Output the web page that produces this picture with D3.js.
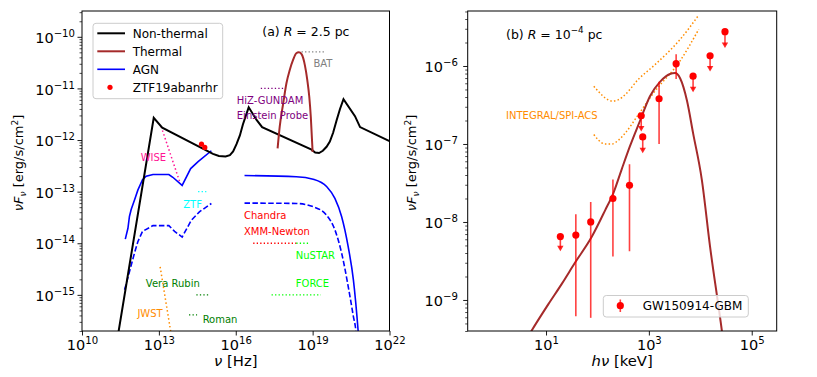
<!DOCTYPE html>
<html>
<head>
<meta charset="utf-8">
<script src="https://cdn.jsdelivr.net/npm/d3@7"></script>
<style>
  body { margin: 0; background: #fff; }
  svg { font-family: "DejaVu Sans", sans-serif; }
</style>
</head>
<body>
<div id="chart"></div>
<script>
// ---------- panel (a): R = 2.5 pc, nu [Hz] vs nuF_nu ----------
const nonThermalNu = [2.0e11, 6.3e12, 1.35e13, 1.29e15, 2.2e15, 4.0e15, 5.9e15, 7.9e15, 1.07e16, 1.45e16,
  1.9e16, 2.5e16, 3.2e16, 6.5e16, 1.07e17, 9.1e18, 1.26e19, 1.78e19, 2.5e19, 3.5e19,
  4.7e19, 6.3e19, 8.7e19, 1.17e20, 1.6e20, 4.5e20, 7.1e20, 1.0e22];
const nonThermalFlux = [8.1e-17, 2.7e-12, 1.74e-12, 5.4e-13, 4.9e-13, 4.8e-13, 5.1e-13, 6.0e-13, 8.3e-13, 1.23e-12,
  2.0e-12, 3.0e-12, 4.3e-12, 2.45e-12, 1.78e-12, 6.5e-13, 5.75e-13, 5.6e-13, 6.2e-13, 7.4e-13,
  9.3e-13, 1.38e-12, 2.45e-12, 4.0e-12, 6.2e-12, 2.9e-12, 1.78e-12, 9.5e-13];

const thermalNu = [4.3e17, 5.2e17, 7.1e17, 9.5e17, 1.29e18, 1.74e18, 2.3e18, 2.9e18, 3.7e18, 5.0e18, 6.2e18, 7.4e18, 8.5e18, 1.0e19];
const thermalFlux = [6.9e-13, 1.82e-12, 5.1e-12, 1.26e-11, 2.3e-11, 3.6e-11, 4.8e-11, 5.0e-11, 4.6e-11, 2.8e-11, 1.45e-11, 6.9e-12, 2.8e-12, 5.9e-13];

const agnIrNu = [4.9e11, 6.2e11, 7.1e11, 8.3e11, 1.12e12, 1.51e12, 2.3e12, 3.2e12, 5.9e12, 2.45e13, 3.5e13, 8.1e13, 1.74e14, 3.4e14, 1.12e15];
const agnIrFlux = [1.2e-14, 1.95e-14, 3.3e-14, 4.5e-14, 6.9e-14, 1.07e-13, 1.7e-13, 2.0e-13, 2.15e-13, 2.15e-13, 1.9e-13, 1.32e-13, 2.8e-13, 3.8e-13, 6.2e-13];
const agnIrDashNu = [4.6e11, 7.1e11, 1.12e12, 1.51e12, 2.3e12, 5.9e12, 2.45e13, 4.1e13, 8.1e13, 1.86e14, 3.9e14, 1.12e15];
const agnIrDashFlux = [1.26e-15, 2.8e-15, 6.5e-15, 1.07e-14, 1.7e-14, 2.2e-14, 2.2e-14, 1.7e-14, 1.32e-14, 2.8e-14, 4.1e-14, 5.9e-14];

const agnXNu = [2.2e16, 2.3e18, 1.05e19, 3.5e19, 7.4e19, 1.35e20, 2.45e20, 3.9e20, 6.0e20, 7.1e20];
const agnXFlux = [2.05e-13, 1.95e-13, 1.74e-13, 1.26e-13, 7.4e-14, 3.3e-14, 8.5e-15, 1.95e-15, 1.95e-16, 6.3e-17];
const agnXDashNu = [2.2e16, 2.3e18, 1.05e19, 3.5e19, 7.4e19, 1.35e20, 2.45e20, 3.9e20, 4.9e20, 5.6e20];
const agnXDashFlux = [6.0e-14, 5.9e-14, 5.1e-14, 3.5e-14, 1.82e-14, 6.5e-15, 1.45e-15, 3.8e-16, 1.95e-16, 8.0e-17];

const ztfObsNu = [4.6e14, 6.2e14];
const ztfObsFlux = [8.3e-13, 7.2e-13];

// instrument sensitivities (horizontal dotted segments)
const instNames = ['BAT', 'HiZ-GUNDAM', 'ZTF', 'Chandra', 'NuSTAR', 'FORCE', 'Vera Rubin', 'Roman'];
const instNuLo = [3.7e18, 9.5e16, 3.4e14, 4.8e16, 2.3e18, 2.5e17, 2.9e14, 1.5e14];
const instNuHi = [3.2e19, 8.3e17, 7.1e14, 2.3e18, 7.8e18, 2.1e19, 9.5e14, 3.1e14];
const instFlux = [5.1e-11, 1.0e-11, 1.0e-13, 1.0e-14, 1.0e-14, 1.0e-15, 1.0e-15, 4.1e-16];

const wiseNu = [1.23e13, 6.5e13];
const wiseFlux = [1.82e-12, 1.55e-13];
const jwstNu = [1.12e13, 3.16e13];
const jwstFlux = [3.5e-15, 1.5e-16];

// ---------- panel (b): R = 1e-4 pc, h nu [keV] ----------
const thermalBE = [4.0, 5.2, 11.2, 20.4, 36, 78, 141, 204, 295, 427, 676, 1050, 1660, 2570, 3240, 4070, 5500, 7240, 10700, 15500, 26300, 29500];
const thermalBFlux = [3.0e-10, 4.0e-10, 8.9e-10, 1.62e-9, 2.95e-9, 6.5e-9, 1.41e-8, 2.35e-8, 4.7e-8, 9.3e-8, 2.0e-7, 4.1e-7, 6.3e-7, 7.9e-7, 8.1e-7, 6.9e-7, 3.6e-7, 1.38e-7, 3.5e-8, 4.8e-9, 4.0e-10, 2.2e-10];

const spiE = [85, 105, 141, 191, 257, 347, 631, 1230, 4070, 9330];
const spiUpperFlux = [5.5e-7, 4.7e-7, 3.9e-7, 3.55e-7, 3.7e-7, 4.3e-7, 6.8e-7, 1.0e-6, 2.2e-6, 4.5e-6];
const spiLowerFlux = [1.32e-7, 1.12e-7, 1.0e-7, 1.0e-7, 1.12e-7, 1.38e-7, 2.4e-7, 4.5e-7, 1.17e-6, 2.95e-6];

const gbmE = [19, 38, 74, 200, 420, 710, 760, 1580, 3390, 7240, 15500, 30200];
const gbmFlux = [6.5e-9, 6.8e-9, 1.0e-8, 2.0e-8, 2.95e-8, 2.3e-7, 1.23e-7, 3.8e-7, 1.07e-6, 7.4e-7, 1.35e-6, 2.75e-6];
const gbmLow = [4.2e-9, 6.2e-10, 5.9e-10, 3.6e-9, 4.2e-9, 1.45e-7, 7.6e-8, 1.0e-7, 6.8e-7, 4.6e-7, 8.5e-7, 1.7e-6];
const gbmHigh = [6.5e-9, 1.26e-8, 1.8e-8, 3.5e-8, 5.5e-8, 2.3e-7, 1.23e-7, 6.3e-7, 1.41e-6, 7.4e-7, 1.35e-6, 2.75e-6];
const gbmUpperLimit = [true, false, false, false, false, true, true, false, false, true, true, true];

// tick values
const xTicksA = [1e10, 1e13, 1e16, 1e19, 1e22];
const yTicksA = [1e-15, 1e-14, 1e-13, 1e-12, 1e-11, 1e-10];
const xTicksB = [1e1, 1e3, 1e5];
const yTicksB = [1e-9, 1e-8, 1e-7, 1e-6];

// ---------- layout ----------
const W = 817, H = 377;
const svg = d3.select('#chart').append('svg').attr('width', W).attr('height', H);

const boxA = { left: 82, right: 389.5, top: 11, bottom: 331 };
const boxB = { left: 467.7, right: 776.7, top: 11, bottom: 331 };

const xA = d3.scaleLog().domain([1e10, 1e22]).range([boxA.left, boxA.right]);
const yA = d3.scaleLog().domain([Math.pow(10, -15.7), Math.pow(10, -9.5)]).range([boxA.bottom, boxA.top]);
const xB = d3.scaleLog().domain([0.3, 3.06e5]).range([boxB.left, boxB.right]);
const yB = d3.scaleLog().domain([4.0e-10, 5.07e-6]).range([boxB.bottom, boxB.top]);

const instColor = {
  'BAT': '#808080', 'HiZ-GUNDAM': '#800080', 'ZTF': '#00ffff', 'Chandra': '#ff0000',
  'NuSTAR': '#00ff00', 'FORCE': '#00ff00', 'Vera Rubin': '#008000', 'Roman': '#008000'
};

const TICK_FS = 14.5;

function pow10(textSel, exp, size) {
  textSel.text(null);
  textSel.append('tspan').text('10');
  textSel.append('tspan')
    .attr('font-size', size * 0.7)
    .attr('dy', -size * 0.42)
    .text(exp < 0 ? '\u2212' + Math.abs(exp) : String(exp));
}

function minorTicks(lo, hi) {
  const out = [];
  for (let e = Math.floor(Math.log10(lo)); e <= Math.ceil(Math.log10(hi)); e++) {
    for (let k = 2; k <= 9; k++) {
      const v = k * Math.pow(10, e);
      if (v >= lo && v <= hi) out.push(v);
    }
  }
  return out;
}

function drawAxes(x, y, box, xTicks, yTicks, yPad, yMinor) {
  const gx = svg.append('g').attr('transform', `translate(0,${box.bottom})`)
    .call(d3.axisBottom(x).tickValues(xTicks).tickSize(4.5).tickPadding(3));
  gx.select('.domain').remove();
  gx.selectAll('.tick line').attr('stroke', '#000').attr('stroke-width', 0.9);
  gx.selectAll('.tick text')
    .attr('y', 19).attr('dy', 0)
    .attr('font-size', TICK_FS).attr('font-family', 'DejaVu Sans').attr('fill', '#000')
    .each(function (d) { pow10(d3.select(this), Math.round(Math.log10(d)), TICK_FS); });

  const gy = svg.append('g').attr('transform', `translate(${box.left},0)`)
    .call(d3.axisLeft(y).tickValues(yTicks).tickSize(4.5).tickPadding(yPad));
  gy.select('.domain').remove();
  gy.selectAll('.tick line').attr('stroke', '#000').attr('stroke-width', 0.9);
  gy.selectAll('.tick text')
    .attr('dy', 5.7)
    .attr('font-size', TICK_FS).attr('font-family', 'DejaVu Sans').attr('fill', '#000')
    .each(function (d) { pow10(d3.select(this), Math.round(Math.log10(d)), TICK_FS); });

  if (yMinor) {
    const dom = y.domain();
    const gm = svg.append('g').attr('transform', `translate(${box.left},0)`)
      .call(d3.axisLeft(y).tickValues(minorTicks(dom[0], dom[1])).tickSize(2.5).tickFormat(''));
    gm.select('.domain').remove();
    gm.selectAll('.tick line').attr('stroke', '#000').attr('stroke-width', 0.7);
  }
}

function clipFor(id, box) {
  svg.append('clipPath').attr('id', id).append('rect')
    .attr('x', box.left).attr('y', box.top)
    .attr('width', box.right - box.left).attr('height', box.bottom - box.top);
  return svg.append('g').attr('clip-path', `url(#${id})`);
}

// ================= panel (a) =================
const gA = clipFor('clipA', boxA);
const lineA = d3.line().x(d => xA(d[0])).y(d => yA(d[1]));
const smoothA = d3.line().x(d => xA(d[0])).y(d => yA(d[1])).curve(d3.curveMonotoneX);

// instrument sensitivity segments
instNames.forEach((n, i) => {
  gA.append('path')
    .attr('d', lineA([[instNuLo[i], instFlux[i]], [instNuHi[i], instFlux[i]]]))
    .attr('fill', 'none').attr('stroke', instColor[n])
    .attr('stroke-width', 1.3).attr('stroke-dasharray', '1.3,2.2');
});
gA.append('path').attr('d', lineA(d3.zip(wiseNu, wiseFlux)))
  .attr('fill', 'none').attr('stroke', '#ff1493').attr('stroke-width', 1.5).attr('stroke-dasharray', '1.5,2.5');
gA.append('path').attr('d', lineA(d3.zip(jwstNu, jwstFlux)))
  .attr('fill', 'none').attr('stroke', '#ff8c00').attr('stroke-width', 1.5).attr('stroke-dasharray', '1.5,2.5');

// AGN
[[agnIrNu, agnIrFlux, null], [agnXNu, agnXFlux, null], [agnIrDashNu, agnIrDashFlux, '5.5,2.4'], [agnXDashNu, agnXDashFlux, '5.5,2.4']]
  .forEach(([nu, f, dash]) => {
    gA.append('path').attr('d', (nu === agnXNu || nu === agnXDashNu ? smoothA : lineA)(d3.zip(nu, f)))
      .attr('fill', 'none').attr('stroke', '#0000ff').attr('stroke-width', 1.6)
      .attr('stroke-dasharray', dash);
  });

// non-thermal + thermal
gA.append('path').attr('d', lineA(d3.zip(nonThermalNu, nonThermalFlux)))
  .attr('fill', 'none').attr('stroke', '#000').attr('stroke-width', 2);
gA.append('path').attr('d', smoothA(d3.zip(thermalNu, thermalFlux)))
  .attr('fill', 'none').attr('stroke', '#a52a2a').attr('stroke-width', 2);

// ZTF19abanrhr
gA.selectAll('.ztf').data(d3.zip(ztfObsNu, ztfObsFlux)).enter().append('circle')
  .attr('cx', d => xA(d[0])).attr('cy', d => yA(d[1])).attr('r', 2.6).attr('fill', '#ff0000');

// instrument labels (data coordinates, left/baseline)
const labelsA = [
  ['BAT', 1.07e19, 2.6e-11, '#808080'],
  ['HiZ-GUNDAM', 1.1e16, 5.0e-12, '#800080'],
  ['Einstein Probe', 1.1e16, 2.6e-12, '#800080'],
  ['WISE', 1.95e12, 4.0e-13, '#ff1493'],
  ['ZTF', 8.9e13, 4.9e-14, '#00ffff'],
  ['Chandra', 2.1e16, 2.95e-14, '#ff0000'],
  ['XMM-Newton', 2.1e16, 1.45e-14, '#ff0000'],
  ['NuSTAR', 2.2e18, 4.9e-15, '#00ff00'],
  ['FORCE', 2.2e18, 1.45e-15, '#00ff00'],
  ['Vera Rubin', 3.1e12, 1.45e-15, '#008000'],
  ['JWST', 1.45e12, 3.8e-16, '#ff8c00'],
  ['Roman', 5.1e14, 2.9e-16, '#008000']
];
svg.append('g').selectAll('text').data(labelsA).enter().append('text')
  .attr('x', d => xA(d[1])).attr('y', d => yA(d[2]))
  .attr('font-size', 10).attr('fill', d => d[3]).text(d => d[0]);

drawAxes(xA, yA, boxA, xTicksA, yTicksA, 2.5, true);
svg.append('rect').attr('x', boxA.left).attr('y', boxA.top)
  .attr('width', boxA.right - boxA.left).attr('height', boxA.bottom - boxA.top)
  .attr('fill', 'none').attr('stroke', '#000').attr('stroke-width', 1);

// title (a)
const tA = svg.append('text').attr('x', 262.3).attr('y', 35.5).attr('font-size', 12.5);
tA.append('tspan').text('(a) ');
tA.append('tspan').attr('font-style', 'italic').text('R');
tA.append('tspan').text(' = 2.5 pc');

// legend (a)
const legA = svg.append('g');
legA.append('rect').attr('x', 93).attr('y', 23.3).attr('width', 129.7).attr('height', 75.4)
  .attr('rx', 3).attr('fill', '#fff').attr('fill-opacity', 0.8).attr('stroke', '#cccccc').attr('stroke-width', 1);
const legItems = [['Non-thermal', '#000', 'line'], ['Thermal', '#a52a2a', 'line'], ['AGN', '#0000ff', 'line'], ['ZTF19abanrhr', '#ff0000', 'dot']];
legItems.forEach(([name, col, kind], i) => {
  const yy = 33.3 + i * 18;
  if (kind === 'line') {
    legA.append('line').attr('x1', 97.3).attr('x2', 125).attr('y1', yy).attr('y2', yy)
      .attr('stroke', col).attr('stroke-width', name === 'AGN' ? 1.6 : 2);
  } else {
    legA.append('circle').attr('cx', 110).attr('cy', yy).attr('r', 2.6).attr('fill', col);
  }
  legA.append('text').attr('x', 132.7).attr('y', yy + 4.3).attr('font-size', 12).text(name);
});

// axis labels (a)
const xlA = svg.append('text').attr('x', (boxA.left + boxA.right) / 2).attr('y', 366)
  .attr('text-anchor', 'middle').attr('font-size', 14.8);
xlA.append('tspan').attr('font-style', 'italic').text('\u03bd');
xlA.append('tspan').text(' [Hz]');

function yLabel(x, y) {
  const t = svg.append('text').attr('transform', `translate(${x},${y}) rotate(-90)`)
    .attr('text-anchor', 'middle').attr('font-size', 13);
  t.append('tspan').attr('font-style', 'italic').text('\u03bdF');
  t.append('tspan').attr('font-style', 'italic').attr('font-size', 9.1).attr('dy', 3).text('\u03bd');
  t.append('tspan').attr('dy', -3).text(' [erg/s/cm');
  t.append('tspan').attr('font-size', 9.1).attr('dy', -5).text('2');
  t.append('tspan').attr('dy', 5).text(']');
}
yLabel(23, 163);

// ================= panel (b) =================
const gB = clipFor('clipB', boxB);
const smoothB = d3.line().x(d => xB(d[0])).y(d => yB(d[1])).curve(d3.curveMonotoneX);

[spiUpperFlux, spiLowerFlux].forEach(f => {
  gB.append('path').attr('d', smoothB(d3.zip(spiE, f)))
    .attr('fill', 'none').attr('stroke', '#ff8c00').attr('stroke-width', 1.5).attr('stroke-dasharray', '1.5,2.2');
});
gB.append('path').attr('d', smoothB(d3.zip(thermalBE, thermalBFlux)))
  .attr('fill', 'none').attr('stroke', '#a52a2a').attr('stroke-width', 2);

// GBM error bars / upper limits
const gbm = gbmE.map((e, i) => ({ e, f: gbmFlux[i], lo: gbmLow[i], hi: gbmHigh[i], ul: gbmUpperLimit[i] }));
const gG = gB.append('g');
gG.selectAll('line').data(gbm).enter().append('line')
  .attr('x1', d => xB(d.e)).attr('x2', d => xB(d.e))
  .attr('y1', d => yB(d.hi)).attr('y2', d => yB(d.lo) - (d.ul ? 3 : 0))
  .attr('stroke', '#ff0000').attr('stroke-opacity', 0.75).attr('stroke-width', 1.6);
gG.selectAll('path').data(gbm.filter(d => d.ul)).enter().append('path')
  .attr('d', d => {
    const cx = xB(d.e), cy = yB(d.lo);
    return `M${cx - 3.2},${cy - 5.5}L${cx + 3.2},${cy - 5.5}L${cx},${cy}Z`;
  })
  .attr('fill', '#ff0000').attr('fill-opacity', 0.85);
gG.selectAll('circle').data(gbm).enter().append('circle')
  .attr('cx', d => xB(d.e)).attr('cy', d => yB(d.f)).attr('r', 3.6).attr('fill', '#ff0000');

svg.append('text').attr('x', xB(1.67)).attr('y', yB(2.07e-7))
  .attr('font-size', 10).attr('fill', '#ff8c00').text('INTEGRAL/SPI-ACS');

drawAxes(xB, yB, boxB, xTicksB, yTicksB, 5.2, true);
svg.append('rect').attr('x', boxB.left).attr('y', boxB.top)
  .attr('width', boxB.right - boxB.left).attr('height', boxB.bottom - boxB.top)
  .attr('fill', 'none').attr('stroke', '#000').attr('stroke-width', 1);

// title (b)
const tB = svg.append('text').attr('x', 506).attr('y', 38.5).attr('font-size', 12.5);
tB.append('tspan').text('(b) ');
tB.append('tspan').attr('font-style', 'italic').text('R');
tB.append('tspan').text(' = 10');
tB.append('tspan').attr('font-size', 8.8).attr('dy', -5.5).text('\u22124');
tB.append('tspan').attr('dy', 5.5).text(' pc');

// legend (b)
const legB = svg.append('g');
legB.append('rect').attr('x', 603.3).attr('y', 295.5).attr('width', 145).attr('height', 21.5)
  .attr('rx', 3).attr('fill', '#fff').attr('fill-opacity', 0.8).attr('stroke', '#cccccc').attr('stroke-width', 1);
legB.append('line').attr('x1', 620.3).attr('x2', 620.3).attr('y1', 299.5).attr('y2', 312)
  .attr('stroke', '#ff0000').attr('stroke-opacity', 0.75).attr('stroke-width', 1.6);
legB.append('circle').attr('cx', 620.3).attr('cy', 305.7).attr('r', 3.6).attr('fill', '#ff0000');
legB.append('text').attr('x', 642.7).attr('y', 310).attr('font-size', 12).text('GW150914-GBM');

// axis labels (b)
const xlB = svg.append('text').attr('x', (boxB.left + boxB.right) / 2).attr('y', 366)
  .attr('text-anchor', 'middle').attr('font-size', 14.8);
xlB.append('tspan').attr('font-style', 'italic').text('h\u03bd');
xlB.append('tspan').text(' [keV]');
yLabel(416, 163);
</script>
</body>
</html>
